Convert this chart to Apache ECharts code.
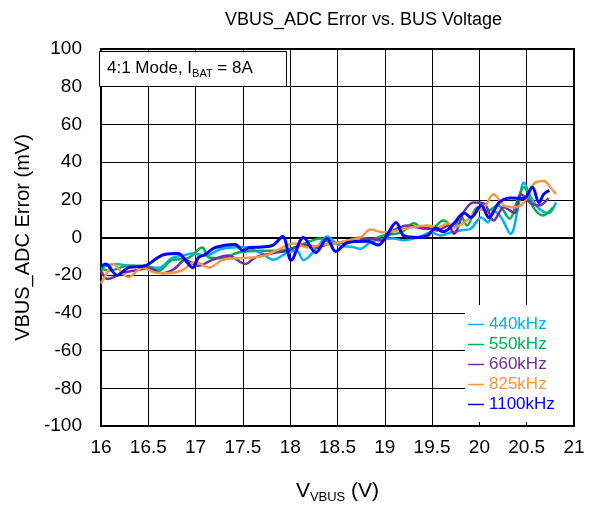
<!DOCTYPE html>
<html>
<head>
<meta charset="utf-8">
<script src="https://cdn.jsdelivr.net/npm/echarts@6/dist/echarts.min.js"></script>
<style>
  html, body { margin: 0; padding: 0; background: #fff; }
  #chart { width: 598px; height: 511px; }
</style>
</head>
<body>
<div id="chart"></div>
<script>
// bus voltage (V) and ADC error (mV), one pair of arrays per frequency
var v440 = [16, 16.15, 16.3, 16.47, 16.61, 16.75, 16.87, 16.97, 17.1, 17.28, 17.5, 17.7, 17.82, 17.97, 18.07, 18.14, 18.29, 18.39, 18.51, 18.66, 18.74, 18.85, 18.96, 19.09, 19.2, 19.35, 19.49, 19.59, 19.7, 19.8, 19.91, 20.02, 20.09, 20.15, 20.23, 20.33, 20.41, 20.47, 20.55, 20.63, 20.73, 20.81];
var e440 = [-16, -14, -15, -15.5, -16, -11, -9.5, -8.5, -9.5, -6, -5, -8.5, -11.8, -8, -7, -12, -5, 0.5, -4, -5, -6, -2.5, -1, -0.5, -1.5, 0, 2.7, 1, 2.7, 3.7, 4.8, 10.6, 8, 14, 10.6, 2, 16, 29, 21, 15.4, 13, 18.6];

var v550 = [16, 16.09, 16.29, 16.47, 16.61, 16.75, 16.92, 17.07, 17.14, 17.28, 17.45, 17.7, 17.85, 18.0, 18.18, 18.32, 18.46, 18.61, 18.74, 18.85, 18.98, 19.17, 19.31, 19.41, 19.5, 19.62, 19.73, 19.8, 19.87, 19.98, 20.08, 20.2, 20.32, 20.39, 20.47, 20.57, 20.67, 20.78];
var e550 = [-16.5, -17.5, -15, -15, -17.5, -12, -11, -5.3, -10.6, -11, -8, -7, -7, -6, -2.6, -0.5, -3.2, -1.6, 0, -1, 1, 2.7, 7.5, 4.5, 4.8, 9, 5.3, 11.7, 6.4, 16, 14, 17, 10, 18, 26.6, 16, 11.7, 16];

var v660 = [16, 16.07, 16.22, 16.36, 16.5, 16.65, 16.78, 16.89, 17.03, 17.17, 17.34, 17.53, 17.63, 17.8, 17.97, 18.14, 18.29, 18.42, 18.61, 18.74, 18.85, 18.96, 19.09, 19.24, 19.35, 19.45, 19.56, 19.67, 19.73, 19.84, 19.94, 20.05, 20.15, 20.26, 20.37, 20.44, 20.55, 20.63, 20.73];
var e660 = [-17.5, -22, -19, -17.5, -16.5, -19, -16.5, -12, -15, -12, -9.5, -14, -10.6, -8.5, -7, -4, -5.3, -3.2, -2.6, -1.6, -0.5, -1.6, 3.7, 6.4, 5.3, 5, 3.7, 6.4, 2, 14, 18.6, 18, 9, 16, 13, 23, 18, 17, 21];

var v825 = [16, 16.05, 16.13, 16.22, 16.29, 16.44, 16.57, 16.71, 16.85, 17.0, 17.14, 17.28, 17.42, 17.6, 17.74, 17.85, 18.04, 18.18, 18.32, 18.46, 18.61, 18.74, 18.85, 18.98, 19.13, 19.28, 19.45, 19.56, 19.67, 19.73, 19.84, 19.94, 20.05, 20.15, 20.26, 20.37, 20.47, 20.58, 20.68, 20.76, 20.81];
var e825 = [-24.5, -20, -14, -18.6, -21, -16, -18.6, -19, -17.5, -13, -16, -12, -11, -10.6, -9.5, -7, -3.2, -5.3, -4, -3.2, -1.6, 0, 4.3, 2.7, 3.7, 5.3, 6.4, 5.3, 7.5, 5.3, 8, 12.8, 16, 23, 17, 16, 18.6, 28.7, 30, 26, 23];

var v1100 = [16, 16.05, 16.17, 16.29, 16.47, 16.59, 16.67, 16.82, 16.87, 16.97, 17.03, 17.1, 17.21, 17.42, 17.5, 17.57, 17.7, 17.82, 17.92, 18.01, 18.14, 18.27, 18.39, 18.48, 18.61, 18.82, 18.93, 19.03, 19.12, 19.2, 19.35, 19.45, 19.54, 19.62, 19.73, 19.84, 19.91, 20.02, 20.1, 20.21, 20.33, 20.47, 20.56, 20.63, 20.68, 20.74];
var e1100 = [-15.4, -14, -20, -16, -15, -11, -9, -8.5, -10.6, -16, -10.6, -9, -5.3, -3.7, -7, -5.3, -5, -4, 0.5, -12, 0, -8, -0.5, -7.4, -2.6, -2, -4, 2, 8, 1, 0, 1, 5, 3, 7.5, 13, 10.6, 17, 10.6, 18.6, 21, 20.7, 26.6, 18.6, 23, 25];

var names = ['440kHz', '550kHz', '660kHz', '825kHz', '1100kHz'];
var colors = ['#00b0f0', '#00b050', '#7030a0', '#f79646', '#0000ff'];

var fontName = "'Liberation Sans', Arial, sans-serif";

function pairs(xs, ys) {
  var out = [];
  for (var i = 0; i < xs.length; i++) {
    out.push([xs[i], ys[i]]);
  }
  return out;
}

var seriesData = [pairs(v440, e440), pairs(v550, e550), pairs(v660, e660), pairs(v825, e825), pairs(v1100, e1100)];

var chart = echarts.init(document.getElementById('chart'));

var series = names.map(function(n, i) {
  return {
    name: n,
    type: 'line',
    data: seriesData[i],
    smooth: 0.35,
    showSymbol: false,
    lineStyle: { color: colors[i], width: i === 4 ? 3 : 2.5 },
    itemStyle: { color: colors[i] }
  };
});

var option = {
  animation: false,
  textStyle: { fontFamily: fontName },
  title: [
    {
      text: 'VBUS_ADC Error vs. BUS Voltage',
      left: 220,
      top: 6,
      textStyle: { fontFamily: fontName, fontSize: 18, fontWeight: 'normal', color: '#000' }
    },
    {
      text: '{a|4:1 Mode, I}{s|BAT}{a| = 8A}',
      left: 99,
      top: 49,
      padding: [8, 34, 8, 8],
      backgroundColor: '#fff',
      borderColor: '#000',
      borderWidth: 1,
      textStyle: {
        fontWeight: 'normal',
        rich: {
          a: { fontFamily: fontName, fontSize: 17, fontWeight: 'normal', color: '#000', lineHeight: 22 },
          s: { fontFamily: fontName, fontSize: 11, fontWeight: 'normal', color: '#000', lineHeight: 11, verticalAlign: 'bottom' }
        }
      }
    }
  ],
  legend: {
    orient: 'vertical',
    left: 465,
    top: 305,
    padding: [11, 18, 9, 3],
    backgroundColor: '#fff',
    icon: 'rect',
    itemWidth: 16,
    itemHeight: 1.5,
    itemGap: 3,
    textStyle: { fontFamily: fontName, fontSize: 17, lineHeight: 16 },
    data: names.map(function(n, i) {
      return { name: n, textStyle: { color: colors[i] } };
    })
  },
  grid: {
    left: 101,
    right: 24,
    top: 49,
    bottom: 85,
    show: true,
    borderColor: '#000',
    borderWidth: 2
  },
  xAxis: {
    type: 'value',
    min: 16,
    max: 21,
    interval: 0.5,
    name: '{a|V}{s|VBUS}{a| (V)}',
    nameLocation: 'middle',
    nameGap: 52,
    nameTextStyle: {
      rich: {
        a: { fontFamily: fontName, fontSize: 21, color: '#000', lineHeight: 26 },
        s: { fontFamily: fontName, fontSize: 13, color: '#000', lineHeight: 13, verticalAlign: 'bottom' }
      }
    },
    axisLine: { lineStyle: { color: '#000', width: 2 } },
    axisTick: { inside: true, length: 5, lineStyle: { color: '#000' } },
    axisLabel: { fontFamily: fontName, fontSize: 19, color: '#000', margin: 12 },
    splitLine: { show: true, lineStyle: { color: '#000', width: 1 } }
  },
  yAxis: {
    type: 'value',
    min: -100,
    max: 100,
    interval: 20,
    name: 'VBUS_ADC Error (mV)',
    nameLocation: 'middle',
    nameGap: 66,
    nameTextStyle: { fontFamily: fontName, fontSize: 20, color: '#000' },
    axisLine: { show: true, lineStyle: { color: '#000', width: 2 } },
    axisTick: { inside: true, length: 5, lineStyle: { color: '#000' } },
    axisLabel: { fontFamily: fontName, fontSize: 19, color: '#000', margin: 19 },
    splitLine: { show: true, lineStyle: { color: '#000', width: 1 } }
  },
  series: series
};

chart.setOption(option);
</script>
</body>
</html>
